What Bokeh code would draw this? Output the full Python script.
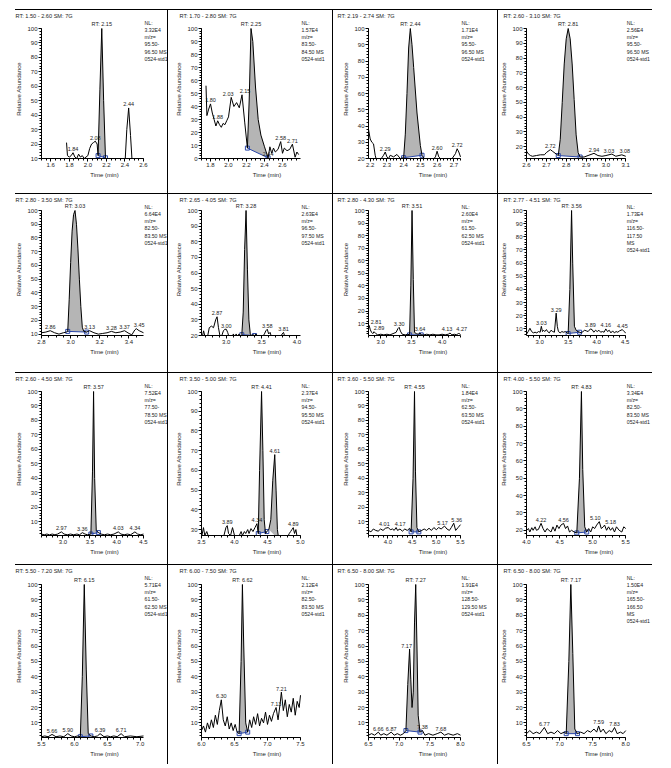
import numpy as np
from bokeh.plotting import figure
from bokeh.layouts import row, column
from bokeh.models import Label, SingleIntervalTicker, NumeralTickFormatter, Div, Spacer, Range1d
from bokeh.embed import file_html
from bokeh.resources import INLINE

FONT = "Liberation Sans"
TXT = "#1c1c1c"
FILL = "#b5b5b5"
BLUE = "#2a47a8"

TITLES = ["RT: 1.50 - 2.60  SM: 7G", "RT: 1.70 - 2.80  SM: 7G", "RT: 2.19 - 2.74  SM: 7G", "RT: 2.60 - 3.10  SM: 7G",
          "RT: 2.80 - 3.50  SM: 7G", "RT: 2.65 - 4.05  SM: 7G", "RT: 2.80 - 4.30  SM: 7G", "RT: 2.77 - 4.51  SM: 7G",
          "RT: 2.60 - 4.50  SM: 7G", "RT: 3.50 - 5.00  SM: 7G", "RT: 3.60 - 5.50  SM: 7G", "RT: 4.00 - 5.50  SM: 7G",
          "RT: 5.50 - 7.20  SM: 7G", "RT: 6.00 - 7.50  SM: 7G", "RT: 6.50 - 8.00  SM: 7G", "RT: 6.50 - 8.00  SM: 7G"]
NL_VALUE = ["3.32E4", "1.57E4", "1.71E4", "2.56E4", "6.64E4", "2.63E4", "2.60E4", "1.73E4",
            "7.52E4", "2.37E4", "1.84E4", "3.34E4", "5.71E4", "2.12E4", "1.91E4", "1.50E4"]
MZ_LOW = ["95.50", "83.50", "95.50", "95.50", "82.50", "96.50", "61.50", "116.50",
          "77.50", "94.50", "62.50", "82.50", "61.50", "82.50", "128.50", "165.50"]
MZ_HIGH = ["96.50", "84.50", "96.50", "96.50", "83.50", "97.50", "62.50", "117.50",
           "78.50", "95.50", "63.50", "83.50", "62.50", "83.50", "129.50", "166.50"]
MS_OWN_LINE = [False, False, False, False, False, False, False, True,
               False, False, False, False, False, False, False, True]
X_START = [1.5, 1.7, 2.19, 2.6, 2.8, 2.65, 2.8, 2.77, 2.6, 3.5, 3.6, 4.0, 5.5, 6.0, 6.5, 6.5]
X_END = [2.6, 2.8, 2.74, 3.1, 3.5, 4.05, 4.3, 4.51, 4.5, 5.0, 5.5, 5.5, 7.05, 7.5, 8.0, 8.0]
Y_START = [10, 0, 20, 12, 9, 20, 0.5, 5, 0.5, 27, 0.5, 17, 0.5, 0.5, 0.5, 0.5]
X_STEP = [0.2, 0.2, 0.1, 0.1, 0.2, 0.5, 0.5, 0.5, 0.5, 0.5, 0.5, 0.5, 0.5, 0.5, 0.5, 0.5]
X_MINOR = [4, 4, 5, 5, 4, 5, 5, 5, 5, 5, 5, 5, 5, 5, 5, 5]
RT = [2.15, 2.25, 2.44, 2.81, 3.03, 3.28, 3.51, 3.56, 3.57, 4.41, 4.55, 4.83, 6.15, 6.62, 7.27, 7.17]

TRACE_1 = [(1.77, 21), (1.78, 12), (1.80, 11), (1.82, 12), (1.84, 14), (1.86, 11), (1.88, 10), (1.90, 13),
           (1.92, 11), (1.94, 12), (1.96, 10), (1.98, 11), (2.00, 12), (2.02, 17), (2.04, 20), (2.06, 21),
           (2.08, 22), (2.10, 20), (2.11, 12), (2.13, 58), (2.15, 100), (2.17, 50), (2.19, 10.5), (2.21, 6),
           (2.30, 4), (2.40, 6), (2.42, 30), (2.44, 45), (2.46, 26), (2.48, 5), (2.55, 3)]
TRACE_2 = [(1.75, 56), (1.76, 33), (1.78, 38), (1.80, 42), (1.82, 35), (1.84, 30), (1.86, 25), (1.88, 29),
           (1.90, 26), (1.92, 24), (1.94, 27), (1.96, 26), (1.98, 29), (2.00, 32), (2.03, 47), (2.06, 40),
           (2.09, 43), (2.12, 39), (2.15, 49), (2.18, 28), (2.21, 8), (2.23, 45), (2.25, 100), (2.27, 90),
           (2.30, 55), (2.33, 30), (2.36, 18), (2.40, 9), (2.44, 0.5), (2.46, 9), (2.48, 4), (2.50, 8),
           (2.52, 5), (2.55, 7), (2.58, 13), (2.60, 4), (2.62, 8), (2.65, 6), (2.68, 7), (2.71, 11),
           (2.74, 1), (2.76, 5), (2.78, 3)]
TRACE_3 = [(2.19, 38), (2.20, 32), (2.21, 30), (2.22, 29), (2.23, 22), (2.24, 18), (2.26, 19), (2.28, 22),
           (2.29, 24), (2.30, 21), (2.31, 20), (2.32, 22), (2.34, 21), (2.36, 22.5), (2.38, 20), (2.40, 20.5),
           (2.41, 35), (2.42, 60), (2.43, 88), (2.44, 100), (2.45, 90), (2.46, 76), (2.48, 48), (2.50, 28),
           (2.51, 22), (2.53, 19), (2.55, 18), (2.57, 18.5), (2.59, 21), (2.60, 24.5), (2.61, 21), (2.63, 19),
           (2.65, 20), (2.67, 19.5), (2.69, 20), (2.71, 23), (2.72, 26), (2.73, 24), (2.74, 21)]
TRACE_4 = [(2.60, 17), (2.61, 15), (2.62, 14), (2.63, 13.5), (2.65, 14), (2.67, 14.5), (2.69, 14.5), (2.70, 16),
           (2.72, 18), (2.73, 17), (2.75, 15), (2.76, 14), (2.77, 25), (2.78, 50), (2.79, 76), (2.80, 93),
           (2.81, 100), (2.82, 93), (2.83, 76), (2.84, 52), (2.85, 28), (2.86, 16), (2.87, 13), (2.89, 13),
           (2.91, 14), (2.94, 15.5), (2.96, 14), (2.98, 13.5), (3.00, 14), (3.03, 15), (3.05, 13.5), (3.08, 14.5),
           (3.10, 13.5)]
TRACE_5 = [(2.80, 11), (2.83, 11.5), (2.86, 12.5), (2.89, 11), (2.92, 10), (2.95, 11), (2.97, 11.5), (2.98, 12),
           (2.99, 35), (3.00, 62), (3.01, 85), (3.02, 97), (3.03, 100), (3.04, 90), (3.05, 72), (3.06, 50),
           (3.07, 30), (3.08, 15), (3.09, 12), (3.11, 11.5), (3.13, 12.5), (3.16, 11), (3.19, 10), (3.22, 10.5),
           (3.25, 11), (3.28, 12), (3.31, 11), (3.34, 11.5), (3.37, 12.5), (3.40, 10.5), (3.42, 9.5), (3.44, 13),
           (3.45, 14), (3.47, 12.5), (3.50, 11)]
TRACE_6 = [(2.65, 17), (2.66, 19), (2.68, 23), (2.70, 19), (2.73, 18), (2.76, 25), (2.79, 26), (2.82, 25),
           (2.85, 30), (2.87, 32), (2.89, 25), (2.91, 20), (2.93, 19), (2.96, 23), (2.98, 24), (3.00, 24),
           (3.02, 22), (3.04, 19), (3.08, 18), (3.10, 21), (3.12, 19), (3.14, 21), (3.16, 19), (3.18, 21),
           (3.20, 19.5), (3.22, 20.5), (3.24, 35), (3.26, 75), (3.28, 100), (3.30, 62), (3.32, 30), (3.34, 21),
           (3.36, 20), (3.38, 20.5), (3.40, 20), (3.42, 21), (3.45, 19), (3.48, 18), (3.51, 19), (3.54, 21),
           (3.56, 23), (3.58, 24), (3.60, 21), (3.62, 22), (3.64, 19), (3.67, 18), (3.70, 17), (3.73, 19),
           (3.76, 18), (3.79, 21), (3.81, 22), (3.83, 19), (3.86, 18), (3.90, 17), (3.95, 16), (4.00, 17),
           (4.05, 16)]
TRACE_7 = [(2.80, 8), (2.81, 8.5), (2.83, 5), (2.85, 3), (2.87, 2), (2.89, 3.5), (2.92, 2), (2.95, 1),
           (3.00, 1.5), (3.05, 1), (3.10, 1.5), (3.15, 1), (3.20, 2), (3.25, 3), (3.28, 6), (3.30, 7),
           (3.32, 4), (3.35, 1.5), (3.40, 1), (3.44, 1.5), (3.47, 1), (3.49, 40), (3.51, 100), (3.53, 45),
           (3.55, 3), (3.58, 2), (3.61, 1.5), (3.64, 2.5), (3.66, 1), (3.70, 1), (3.75, 1.5), (3.80, 1),
           (3.85, 1.5), (3.90, 1), (3.95, 1), (4.00, 1.5), (4.05, 1), (4.10, 1.5), (4.13, 2.5), (4.16, 1),
           (4.20, 1.5), (4.24, 1), (4.27, 2.5), (4.30, 1)]
TRACE_8 = [(2.77, 6), (2.80, 8), (2.83, 10.5), (2.86, 8), (2.89, 7), (2.92, 7.5), (2.95, 7), (2.98, 8),
           (3.01, 7.5), (3.03, 12), (3.05, 8), (3.07, 9), (3.09, 8), (3.12, 9.5), (3.14, 8), (3.17, 7),
           (3.20, 9), (3.23, 8), (3.26, 7.5), (3.29, 22), (3.31, 12), (3.33, 8), (3.36, 7), (3.39, 8),
           (3.42, 7.5), (3.45, 8), (3.48, 7), (3.50, 6.5), (3.53, 40), (3.56, 100), (3.58, 60), (3.61, 12),
           (3.64, 9), (3.67, 8), (3.70, 7.5), (3.73, 7), (3.76, 8), (3.79, 9), (3.82, 8.5), (3.85, 8),
           (3.89, 10), (3.92, 9.5), (3.95, 7.5), (3.98, 9), (4.01, 8), (4.04, 9), (4.07, 7.5), (4.10, 8),
           (4.13, 7.5), (4.16, 10), (4.19, 8), (4.22, 9), (4.25, 7), (4.28, 8.5), (4.31, 7), (4.34, 8),
           (4.37, 7.5), (4.40, 8.5), (4.45, 9.5), (4.48, 8), (4.51, 7)]
TRACE_9 = [(2.60, 1.5), (2.65, 1), (2.70, 1.5), (2.75, 1), (2.80, 1.5), (2.85, 1), (2.90, 1.5), (2.97, 3),
           (3.02, 1.5), (3.08, 1), (3.14, 1.5), (3.20, 1), (3.26, 1.5), (3.31, 1), (3.36, 2.5), (3.41, 1.5),
           (3.46, 1), (3.52, 1.5), (3.55, 45), (3.57, 100), (3.59, 40), (3.62, 4), (3.66, 2.5), (3.71, 1.5),
           (3.77, 1), (3.83, 1.5), (3.89, 1), (3.95, 1.5), (4.03, 3), (4.08, 1.5), (4.14, 1), (4.20, 1.5),
           (4.26, 1), (4.34, 3), (4.39, 1.5), (4.45, 1), (4.50, 1.5)]
TRACE_10 = [(3.50, 26), (3.53, 31), (3.55, 27), (3.58, 29), (3.61, 26), (3.65, 25), (3.70, 26), (3.75, 25),
            (3.80, 26), (3.84, 27), (3.87, 31), (3.89, 32), (3.91, 28), (3.94, 27), (3.97, 31), (4.00, 27),
            (4.03, 25), (4.06, 26), (4.10, 29), (4.12, 27), (4.15, 29), (4.17, 28), (4.20, 30), (4.22, 28),
            (4.25, 30.5), (4.28, 29), (4.31, 31), (4.34, 33), (4.36, 28), (4.38, 60), (4.41, 100), (4.43, 70),
            (4.45, 35), (4.47, 28), (4.49, 29), (4.52, 30), (4.55, 35), (4.58, 55), (4.61, 68), (4.63, 50),
            (4.65, 30), (4.67, 25), (4.70, 24), (4.75, 25), (4.80, 26), (4.83, 28), (4.85, 29), (4.87, 30),
            (4.89, 31), (4.91, 28), (4.93, 30), (4.95, 26), (5.00, 25)]
TRACE_11 = [(3.60, 4), (3.65, 3), (3.70, 5), (3.75, 4), (3.80, 3.5), (3.85, 5), (3.90, 4), (3.95, 5.5),
            (4.01, 6), (4.05, 4.5), (4.10, 5), (4.13, 4), (4.17, 6), (4.20, 4), (4.25, 5), (4.30, 3.5),
            (4.35, 5), (4.40, 4), (4.45, 5.5), (4.48, 3), (4.52, 40), (4.55, 100), (4.57, 45), (4.60, 6),
            (4.64, 3), (4.70, 4), (4.75, 5), (4.80, 4), (4.85, 5.5), (4.90, 4), (4.95, 6), (5.00, 4.5),
            (5.05, 6), (5.10, 5), (5.17, 7), (5.22, 5), (5.27, 4), (5.31, 6), (5.36, 9), (5.40, 4),
            (5.45, 6), (5.50, 8)]
TRACE_12 = [(4.00, 20), (4.03, 21), (4.05, 19), (4.08, 21.5), (4.10, 20), (4.13, 22), (4.15, 20), (4.18, 20.5),
            (4.22, 24), (4.25, 21), (4.28, 19), (4.31, 21), (4.34, 20), (4.37, 19), (4.40, 22), (4.43, 19.5),
            (4.46, 23), (4.49, 21), (4.52, 23), (4.56, 24), (4.59, 21), (4.62, 22.5), (4.65, 19), (4.68, 20),
            (4.72, 19), (4.76, 18.5), (4.80, 50), (4.83, 100), (4.85, 55), (4.88, 22), (4.91, 19), (4.94, 21),
            (4.97, 19), (5.00, 22), (5.03, 21), (5.06, 23), (5.10, 25), (5.13, 21), (5.16, 22), (5.18, 23),
            (5.21, 20), (5.24, 22), (5.27, 20), (5.30, 21.5), (5.33, 19), (5.36, 22), (5.40, 20), (5.44, 19),
            (5.47, 22), (5.50, 21)]
TRACE_13 = [(5.50, 1), (5.55, 1.5), (5.60, 1), (5.66, 2.5), (5.72, 1), (5.78, 1.5), (5.84, 1), (5.90, 3),
            (5.95, 1.5), (6.00, 1), (6.05, 1.5), (6.09, 1), (6.12, 40), (6.15, 100), (6.18, 45), (6.21, 3),
            (6.25, 1.5), (6.30, 1), (6.35, 1.5), (6.39, 3), (6.45, 1), (6.50, 1.5), (6.55, 1), (6.60, 1.5),
            (6.65, 1), (6.71, 3), (6.76, 1), (6.85, 1.5), (6.95, 1), (7.05, 1.5)]
TRACE_14 = [(6.00, 5), (6.03, 8), (6.06, 4), (6.09, 10), (6.12, 6), (6.15, 12), (6.18, 7), (6.21, 15),
            (6.24, 9), (6.27, 18), (6.30, 25), (6.33, 12), (6.36, 8), (6.39, 14), (6.42, 6), (6.45, 10),
            (6.48, 5), (6.51, 9), (6.54, 4), (6.57, 3), (6.60, 50), (6.62, 100), (6.64, 60), (6.67, 10),
            (6.70, 4), (6.73, 12), (6.76, 7), (6.79, 14), (6.82, 9), (6.85, 16), (6.88, 8), (6.91, 13),
            (6.94, 10), (6.97, 17), (7.00, 9), (7.03, 15), (7.06, 11), (7.09, 16), (7.13, 20), (7.16, 12),
            (7.19, 22), (7.21, 30), (7.24, 18), (7.27, 25), (7.30, 14), (7.33, 22), (7.36, 17), (7.39, 26),
            (7.42, 15), (7.45, 24), (7.48, 20), (7.50, 28)]
TRACE_15 = [(6.50, 2), (6.55, 3), (6.60, 2), (6.66, 4), (6.70, 2), (6.75, 3), (6.80, 2), (6.87, 4),
            (6.92, 2), (6.97, 3), (7.02, 2), (7.07, 3), (7.11, 5), (7.14, 35), (7.17, 58), (7.19, 38),
            (7.21, 20), (7.23, 30), (7.25, 75), (7.27, 100), (7.29, 60), (7.31, 15), (7.34, 4), (7.38, 5),
            (7.42, 2), (7.48, 3), (7.55, 2), (7.62, 3), (7.68, 4), (7.74, 2), (7.80, 3), (7.88, 2),
            (7.95, 3), (8.00, 2)]
TRACE_16 = [(6.50, 3), (6.55, 5), (6.60, 3), (6.65, 4), (6.70, 3), (6.77, 7), (6.82, 3), (6.87, 4),
            (6.92, 3), (6.97, 5), (7.02, 3), (7.07, 4), (7.10, 3), (7.14, 50), (7.17, 100), (7.20, 55),
            (7.23, 6), (7.27, 3), (7.32, 4), (7.37, 3), (7.42, 5), (7.47, 4), (7.52, 6), (7.56, 4),
            (7.59, 8), (7.62, 4), (7.66, 6), (7.70, 3), (7.75, 5), (7.79, 4), (7.83, 7), (7.87, 3),
            (7.92, 4), (7.96, 3), (8.00, 5)]
TRACES = [TRACE_1, TRACE_2, TRACE_3, TRACE_4, TRACE_5, TRACE_6, TRACE_7, TRACE_8,
          TRACE_9, TRACE_10, TRACE_11, TRACE_12, TRACE_13, TRACE_14, TRACE_15, TRACE_16]

PEAK_WINDOW = [(2.11, 2.19), (2.21, 2.44), (2.40, 2.51), (2.76, 2.87), (2.98, 3.11), (3.22, 3.40),
               (3.47, 3.66), (3.50, 3.70), (3.52, 3.66), (4.36, 4.49), (4.48, 4.64), (4.76, 4.91),
               (6.09, 6.25), (6.57, 6.70), (7.11, 7.34), (7.10, 7.27)]
EXTRA_FILL = {9: (4.52, 4.67)}

PEAK_LABELS = [[1.84, 2.08, 2.44], [1.80, 1.88, 2.03, 2.15, 2.44, 2.58, 2.71], [2.29, 2.60, 2.72],
               [2.72, 2.94, 3.03, 3.08], [2.86, 3.13, 3.28, 3.37, 3.45], [2.87, 3.00, 3.58, 3.81],
               [2.81, 2.89, 3.30, 3.64, 4.13, 4.27], [3.03, 3.29, 3.89, 4.16, 4.45],
               [2.97, 3.36, 4.03, 4.34], [3.89, 4.34, 4.61, 4.89], [4.01, 4.17, 5.17, 5.36],
               [4.22, 4.56, 5.10, 5.18], [5.66, 5.90, 6.39, 6.71], [6.30, 7.13, 7.21],
               [6.66, 6.87, 7.17, 7.38, 7.68], [6.77, 7.59, 7.83]]
# small pixel nudges so neighbouring labels do not collide
NUDGE = {(1, 2.03): -3, (1, 2.15): 3, (3, 3.03): -3, (3, 3.08): 3, (4, 3.45): 3,
         (6, 2.81): 7, (6, 2.89): 5,
         (6, 4.13): -3, (6, 4.27): 3, (10, 4.01): -4, (10, 4.17): 4, (10, 5.17): -2, (10, 5.36): 3,
         (11, 5.10): -4, (11, 5.18): 6, (14, 7.17): -3}

# layout (pixels)
TITLE_BAND = 9
ROW_TOP = [18, 16, 18, 19]
ROW_FRAME = [130, 125, 144, 153]
ROW_BOTTOM = [35, 37, 29, 27]
NL_FROM_TOP = [12, 12, 12, 12]
COL_W = [167, 164, 164, 173]
COL_LEFT = [41, 33, 35, 24]
COL_RIGHT = [24, 32, 37, 47]
TITLE_DX = [-26, -22, -31, -23]


def style_axis(ax):
    ax.axis_label_text_font = FONT
    ax.axis_label_text_font_size = "6px"
    ax.axis_label_text_font_style = "normal"
    ax.axis_label_text_color = TXT
    ax.axis_label_standoff = 2
    ax.major_label_text_font = FONT
    ax.major_label_text_font_size = "6px"
    ax.major_label_text_color = TXT
    ax.major_label_standoff = 1
    ax.major_tick_out = 3
    ax.major_tick_in = 0
    ax.minor_tick_out = 2
    ax.minor_tick_in = 0
    ax.axis_line_color = "black"
    ax.major_tick_line_color = "black"
    ax.minor_tick_line_color = "black"


def add_fill(p, t, a, ts, te, markers):
    m = (t >= ts - 1e-9) & (t <= te + 1e-9)
    tt = t[m]
    aa = a[m]
    ys = float(np.interp(ts, t, a))
    ye = float(np.interp(te, t, a))
    base = np.interp(tt, [ts, te], [ys, ye])
    p.varea(x=tt, y1=base, y2=aa, fill_color=FILL)
    if markers:
        p.line([ts, te], [ys, ye], line_color=BLUE, line_width=1)
        p.scatter([ts, te], [ys, ye], marker="square", size=4, fill_color=None,
                  line_color=BLUE, line_width=1)


def make_panel(i):
    r, c = divmod(i, 4)
    t = np.array([q[0] for q in TRACES[i]])
    a = np.array([q[1] for q in TRACES[i]])
    x0, x1, y0 = X_START[i], X_END[i], Y_START[i]
    fw = COL_W[c] - COL_LEFT[c] - COL_RIGHT[c]
    # the frame is extended over the right margin and the strip above 100 % so that the
    # peak labels and NL notes stay visible; the axes are bounded to the real data window
    x_ext = x1 + (x1 - x0) * COL_RIGHT[c] / fw
    head = ROW_TOP[r] - TITLE_BAND
    y_ext = 100 + (100 - y0) * head / ROW_FRAME[r]
    h = ROW_TOP[r] + ROW_FRAME[r] + ROW_BOTTOM[r]
    p = figure(width=COL_W[c], height=h, x_range=Range1d(x0, x_ext), y_range=Range1d(y0, y_ext),
               output_backend="svg", toolbar_location=None,
               min_border_left=COL_LEFT[c], min_border_right=0,
               min_border_top=TITLE_BAND, min_border_bottom=ROW_BOTTOM[r])
    p.outline_line_color = None
    p.grid.visible = False
    p.background_fill_color = "white"
    p.border_fill_color = "white"

    p.title.text = TITLES[i]
    p.title.align = "left"
    p.title.offset = TITLE_DX[c]
    p.title.standoff = 0
    p.title.text_font = FONT
    p.title.text_font_size = "5.6px"
    p.title.text_font_style = "normal"
    p.title.text_color = TXT
    p.title.vertical_align = "middle"

    p.xaxis.ticker = SingleIntervalTicker(interval=X_STEP[i], num_minor_ticks=X_MINOR[i])
    p.xaxis.formatter = NumeralTickFormatter(format="0.0")
    p.xaxis.bounds = (x0, x1)
    p.yaxis.ticker = SingleIntervalTicker(interval=10, num_minor_ticks=5)
    p.yaxis.bounds = (y0, 100)
    p.xaxis.axis_label = "Time (min)"
    p.yaxis.axis_label = "Relative Abundance"
    style_axis(p.xaxis[0])
    style_axis(p.yaxis[0])

    ts, te = PEAK_WINDOW[i]
    add_fill(p, t, a, ts, te, True)
    if i in EXTRA_FILL:
        es, ee = EXTRA_FILL[i]
        add_fill(p, t, a, es, ee, False)
    p.line(t, a, line_color="black", line_width=1)

    # NL block
    if MS_OWN_LINE[i]:
        lines = ["NL:", NL_VALUE[i], "m/z=", MZ_LOW[i] + "-", MZ_HIGH[i], "MS", "0524-std1"]
    else:
        lines = ["NL:", NL_VALUE[i], "m/z=", MZ_LOW[i] + "-", MZ_HIGH[i] + "  MS", "0524-std1"]
    for k, txt in enumerate(lines):
        p.add_layout(Label(x=x1, y=100, x_offset=1, y_offset=ROW_TOP[r] - NL_FROM_TOP[r] - k * 7.3,
                           text=txt, text_font=FONT, text_font_size="5.2px", text_color=TXT,
                           text_align="left", text_baseline="middle"))
    # RT label
    p.add_layout(Label(x=RT[i], y=min(float(np.interp(RT[i], t, a)), 100), y_offset=1.5,
                       text="RT: %.2f" % RT[i], text_font=FONT, text_font_size="5.5px", text_color=TXT,
                       text_align="center", text_baseline="bottom"))
    for lt in PEAK_LABELS[i]:
        ly = min(float(np.interp(lt, t, a)), 100)
        p.add_layout(Label(x=lt, y=ly, y_offset=1.5, x_offset=NUDGE.get((i, lt), 0),
                           text="%.2f" % lt, text_font=FONT, text_font_size="5.5px", text_color=TXT,
                           text_align="center", text_baseline="bottom"))
    return p


def vsep(h):
    return Div(text="", width=1, height=h, margin=0, styles={"background-color": "black"})


def hsep():
    return Div(text="", width=637, height=1, margin=(0, 0, 0, 15), styles={"background-color": "black"})


panels = [make_panel(i) for i in range(16)]
rows = []
for r in range(4):
    h = ROW_TOP[r] + ROW_FRAME[r] + ROW_BOTTOM[r]
    items = []
    for c in range(4):
        if c > 0:
            items.append(vsep(h))
        items.append(panels[r * 4 + c])
    rows.append(row(*items, spacing=0))

layout = column(Spacer(width=671, height=9), hsep(), rows[0], hsep(), rows[1], hsep(), rows[2], hsep(), rows[3],
                spacing=0)

open("out.html", "w").write(file_html(layout, INLINE))
